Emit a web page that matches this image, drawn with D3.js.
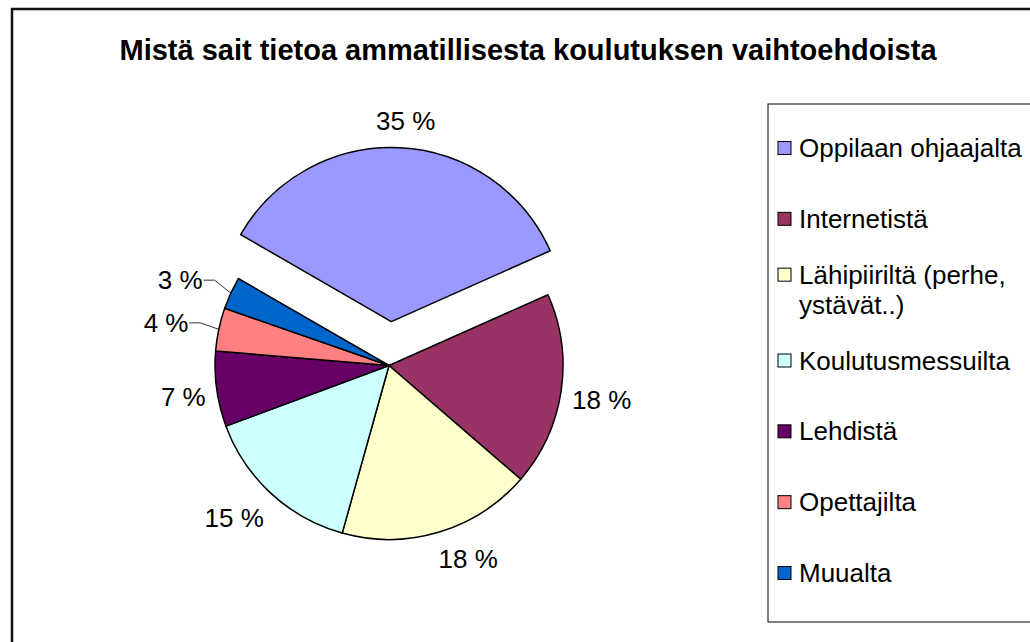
<!DOCTYPE html>
<html>
<head>
<meta charset="utf-8">
<script src="https://cdn.jsdelivr.net/npm/d3@7"></script>
<style>
  body { margin: 0; background: #fff; }
  text { font-family: Arial, "Liberation Sans", sans-serif; fill: #000; }
</style>
</head>
<body>
<svg id="chart" width="1030" height="642"></svg>
<script>
const title = "Mistä sait tietoa ammatillisesta koulutuksen vaihtoehdoista";
const categories = ["Oppilaan ohjaajalta", "Internetistä", "Lähipiiriltä (perhe, ystävät..)", "Koulutusmessuilta", "Lehdistä", "Opettajilta", "Muualta"];
const legendLines = [["Oppilaan ohjaajalta"], ["Internetistä"], ["Lähipiiriltä (perhe,", "ystävät..)"], ["Koulutusmessuilta"], ["Lehdistä"], ["Opettajilta"], ["Muualta"]];
const values = [35, 18, 18, 15, 7, 4, 3];
const colors = ["#9999FF", "#993366", "#FFFFCC", "#CCFFFF", "#660066", "#FF8080", "#0066CC"];

const svg = d3.select("#chart");
const width = 1030, height = 642;

svg.append("rect")
  .attr("width", width).attr("height", height)
  .attr("fill", "#fff");

// chart area border (runs off the right and bottom edges)
svg.append("rect")
  .attr("x", 12).attr("y", 9)
  .attr("width", 1040).attr("height", 660)
  .attr("fill", "none")
  .attr("stroke", "#111")
  .attr("stroke-width", 2.5);

svg.append("text")
  .attr("x", 528).attr("y", 60)
  .attr("text-anchor", "middle")
  .style("font-weight", "bold")
  .style("font-size", "29px")
  .text(title);

// pie
const cx = 389, cy = 365.5, radius = 174, explode = 44;
const rad = Math.PI / 180;
const pie = d3.pie().sort(null).value(d => d)
  .startAngle(-60 * rad).endAngle(300 * rad);
const arc = d3.arc().innerRadius(0).outerRadius(radius);
const arcs = pie(values);

const g = svg.append("g").attr("transform", `translate(${cx},${cy})`);

function mid(d) { return (d.startAngle + d.endAngle) / 2; }
function offset(d, i) {
  const m = mid(d);
  const e = i === 0 ? explode : 0;
  return [Math.sin(m) * e, -Math.cos(m) * e];
}

g.selectAll("path.slice")
  .data(arcs)
  .join("path")
  .attr("class", "slice")
  .attr("d", arc)
  .attr("transform", (d, i) => `translate(${offset(d, i)})`)
  .attr("fill", (d, i) => colors[i])
  .attr("stroke", "#000")
  .attr("stroke-width", 1.5)
  .attr("stroke-linejoin", "round");

// data labels
const labelSize = 26;
const hh = 16;
const clamp = v => Math.max(-1, Math.min(1, v));

arcs.forEach((d, i) => {
  const m = mid(d);
  const [ox, oy] = offset(d, i);
  const s = Math.sin(m), c = -Math.cos(m);
  const txt = `${values[i]} %`;
  if (values[i] < 5) {
    // small slice: label pulled out with a leader line
    const lr = radius + 31;
    const lx = s * lr, ly = c * lr;
    const px = s * radius, py = c * radius;
    const kneeX = lx + 12;
    g.append("path")
      .attr("d", d3.line()([[px, py], [kneeX, ly], [lx + 1, ly]]))
      .attr("fill", "none")
      .attr("stroke", "#000")
      .attr("stroke-width", 0.8);
    g.append("text")
      .attr("x", lx).attr("y", ly)
      .attr("dy", "0.35em")
      .attr("text-anchor", "end")
      .style("font-size", labelSize + "px")
      .text(txt);
  } else {
    const t = g.append("text")
      .attr("dy", "0.35em")
      .attr("text-anchor", "middle")
      .style("font-size", labelSize + "px")
      .text(txt);
    const hw = t.node().getComputedTextLength() / 2;
    const lr = radius + 11;
    t.attr("x", ox + s * lr + clamp(s * 3) * hw)
      .attr("y", oy + c * lr + clamp(c * 3) * hh);
  }
});

// legend
const legendX = 768, legendTop = 104, legendBottom = 622;
svg.append("rect")
  .attr("x", legendX).attr("y", legendTop)
  .attr("width", 300).attr("height", legendBottom - legendTop)
  .attr("fill", "#fff")
  .attr("stroke", "#000")
  .attr("stroke-width", 1);

const legendY = d3.scaleLinear().domain([0, categories.length - 1]).range([148, 573]);
const lineH = 30, box = 13;

const items = svg.selectAll("g.legend-item")
  .data(categories)
  .join("g")
  .attr("class", "legend-item")
  .attr("transform", (d, i) => `translate(${legendX + 10},${legendY(i) - (legendLines[i].length - 1) * lineH / 2})`);

items.append("rect")
  .attr("x", 0).attr("y", -box / 2)
  .attr("width", box).attr("height", box)
  .attr("fill", (d, i) => colors[i])
  .attr("stroke", "#000")
  .attr("stroke-width", 1);

items.each(function (d, i) {
  const t = d3.select(this).append("text")
    .attr("x", 21).attr("y", 0)
    .style("font-size", "26px");
  legendLines[i].forEach((line, j) => {
    t.append("tspan")
      .attr("x", 21)
      .attr("dy", j === 0 ? "0.35em" : lineH + "px")
      .text(line);
  });
});
</script>
</body>
</html>
